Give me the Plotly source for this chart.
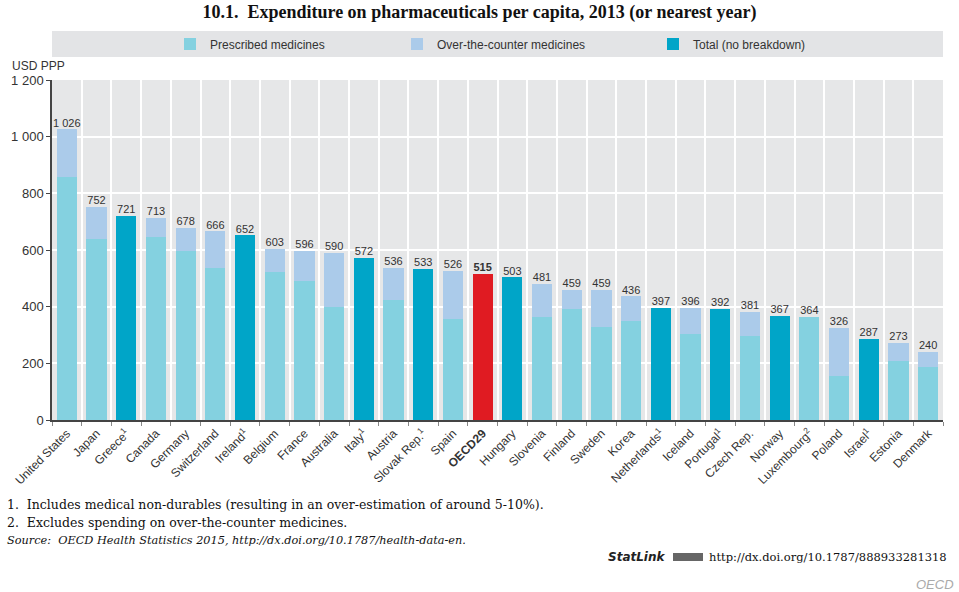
import plotly.graph_objects as go

countries = ["United States", "Japan", "Greece<sup>1</sup>", "Canada", "Germany", "Switzerland",
             "Ireland<sup>1</sup>", "Belgium", "France", "Australia", "Italy<sup>1</sup>", "Austria",
             "Slovak Rep.<sup>1</sup>", "Spain", "<b>OECD29</b>", "Hungary", "Slovenia", "Finland",
             "Sweden", "Korea", "Netherlands<sup>1</sup>", "Iceland", "Portugal<sup>1</sup>",
             "Czech Rep.", "Norway", "Luxembourg<sup>2</sup>", "Poland", "Israel<sup>1</sup>",
             "Estonia", "Denmark"]

totals = [1026, 752, 721, 713, 678, 666, 652, 603, 596, 590, 572, 536, 533, 526, 515,
          503, 481, 459, 459, 436, 397, 396, 392, 381, 367, 364, 326, 287, 273, 240]

prescribed = [856, 640, None, 646, 596, 535, None, 521, 490, 400, None, 424, None, 356, None,
              None, 365, 392, 329, 349, None, 303, None, 296, None, 364, 155, None, 208, 188]

otc = [170, 112, None, 67, 82, 131, None, 82, 106, 190, None, 112, None, 170, None,
       None, 116, 67, 130, 87, None, 93, None, 85, None, None, 171, None, 65, 52]

total_only = [None, None, 721, None, None, None, 652, None, None, None, 572, None, 533, None, None,
              503, None, None, None, None, 397, None, 392, None, 367, None, None, 287, None, None]

oecd_avg = [None] * 14 + [515] + [None] * 15

y_ticks = [0, 200, 400, 600, 800, 1000, 1200]

C_PRES = "#84d1e0"
C_OTC = "#abcbea"
C_TOT = "#00a5c8"
C_OECD = "#e01b22"
GRID_BG = "#e6e7e8"

idx = list(range(len(countries)))
W = 0.68

font_cond = "Liberation Sans Narrow, Arial Narrow, Liberation Sans, sans-serif"
serif = "DejaVu Serif, Liberation Serif, serif"

fig = go.Figure()
fig.add_trace(go.Bar(x=idx, y=prescribed, name="Prescribed medicines", marker_color=C_PRES,
                     width=W, legend="legend", marker_line_width=0))
fig.add_trace(go.Bar(x=idx, y=otc, name="Over-the-counter medicines", marker_color=C_OTC,
                     width=W, legend="legend2", marker_line_width=0))
fig.add_trace(go.Bar(x=idx, y=total_only, name="Total (no breakdown)", marker_color=C_TOT,
                     width=W, legend="legend3", marker_line_width=0))
fig.add_trace(go.Bar(x=idx, y=oecd_avg, name="OECD29", marker_color=C_OECD,
                     width=W, showlegend=False, marker_line_width=0))

labels = []
for i, v in enumerate(totals):
    s = f"{v:,}".replace(",", " ")
    labels.append(f"<b>{s}</b>" if i == 14 else s)

fig.add_trace(go.Scatter(x=idx, y=totals, mode="text", text=labels, textposition="top center",
                         textfont=dict(size=11, color="#333333", family=font_cond),
                         showlegend=False, hoverinfo="skip", cliponaxis=False))

fig.update_layout(
    barmode="stack",
    width=959, height=592,
    margin=dict(l=52, r=16, t=80, b=172),
    paper_bgcolor="white",
    plot_bgcolor=GRID_BG,
    separators=". ",
    font=dict(family=font_cond, color="#333333", size=12),
    title=dict(text="<b>10.1.  Expenditure on pharmaceuticals per capita, 2013 (or nearest year)</b>",
               x=0.5, xanchor="center", y=1 - 12 / 592, yanchor="middle",
               font=dict(family="Liberation Serif, Times New Roman, serif", size=18, color="#111111")),
    xaxis=dict(
        range=[-0.5, len(countries) - 0.5],
        tickmode="array", tickvals=idx, ticktext=countries,
        tickangle=-45, ticks="", showgrid=False, zeroline=False,
        showline=True, linecolor="#444444", linewidth=1.5,
        tickfont=dict(size=12, color="#333333", family=font_cond),
        minor=dict(tick0=0.5, dtick=1, showgrid=True, gridcolor="white", gridwidth=1.5,
                   ticks="outside", ticklen=4, tickcolor="#888888"),
    ),
    yaxis=dict(
        range=[0, 1200], tickmode="array", tickvals=y_ticks, tickformat=",d",
        showgrid=True, gridcolor="white", gridwidth=1.5, zeroline=False,
        showline=True, linecolor="#444444", linewidth=1.5,
        ticks="outside", ticklen=4, tickcolor="#444444",
        tickfont=dict(size=13, color="#333333", family=font_cond),
    ),
    shapes=[dict(type="rect", xref="paper", yref="paper", x0=0, x1=1,
                 y0=(420 - 57) / 340, y1=(420 - 31) / 340,
                 fillcolor="#e3e4e6", line_width=0, layer="below")],
)

leg_common = dict(orientation="h", bgcolor="rgba(0,0,0,0)", yanchor="middle",
                  y=(420 - 44) / 340, xanchor="left",
                  font=dict(size=12, color="#333333", family=font_cond),
                  itemwidth=30)
fig.update_layout(
    legend=dict(x=(170 - 52) / 891, **leg_common),
    legend2=dict(x=(397 - 52) / 891, **leg_common),
    legend3=dict(x=(653 - 52) / 891, **leg_common),
)

ann = [
    dict(text="USD PPP", x=(10 - 52) / 891, y=(420 - 66) / 340, xanchor="left", yanchor="middle",
         font=dict(size=12, family=font_cond, color="#333333")),
    dict(text="1.  Includes medical non-durables (resulting in an over-estimation of around 5-10%).",
         x=(5 - 52) / 891, y=(420 - 504) / 340, xanchor="left", yanchor="middle",
         font=dict(size=12.5, family=serif, color="#111111")),
    dict(text="2.  Excludes spending on over-the-counter medicines.",
         x=(5 - 52) / 891, y=(420 - 522) / 340, xanchor="left", yanchor="middle",
         font=dict(size=12.5, family=serif, color="#111111")),
    dict(text="<i>Source:  OECD Health Statistics 2015, http://dx.doi.org/10.1787/health-data-en.</i>",
         x=(5 - 52) / 891, y=(420 - 540) / 340, xanchor="left", yanchor="middle",
         font=dict(size=11.3, family=serif, color="#111111")),
    dict(text="<b><i>StatLink</i></b>", x=(668 - 52) / 891, y=(420 - 557) / 340,
         xanchor="right", yanchor="middle",
         font=dict(size=12, family="DejaVu Sans, sans-serif", color="#222222")),
    dict(text="http://dx.doi.org/10.1787/888933281318", x=(949 - 52) / 891, y=(420 - 557) / 340,
         xanchor="right", yanchor="middle",
         font=dict(size=11.5, family=serif, color="#111111")),
    dict(text="<i>OECD</i>", x=(956 - 52) / 891, y=(420 - 584) / 340,
         xanchor="right", yanchor="middle",
         font=dict(size=13, family="Liberation Sans, sans-serif", color="#aaaaaa")),
]
for a in ann:
    a.update(xref="paper", yref="paper", showarrow=False)
fig.update_layout(annotations=ann)

fig.add_shape(type="rect", xref="paper", yref="paper",
              x0=(673 - 52) / 891, x1=(703 - 52) / 891,
              y0=(420 - 561) / 340, y1=(420 - 553) / 340,
              fillcolor="#666666", line_width=0)

fig.write_html("out.html", config={"displayModeBar": False},
               post_script="document.body.style.margin='0';")
